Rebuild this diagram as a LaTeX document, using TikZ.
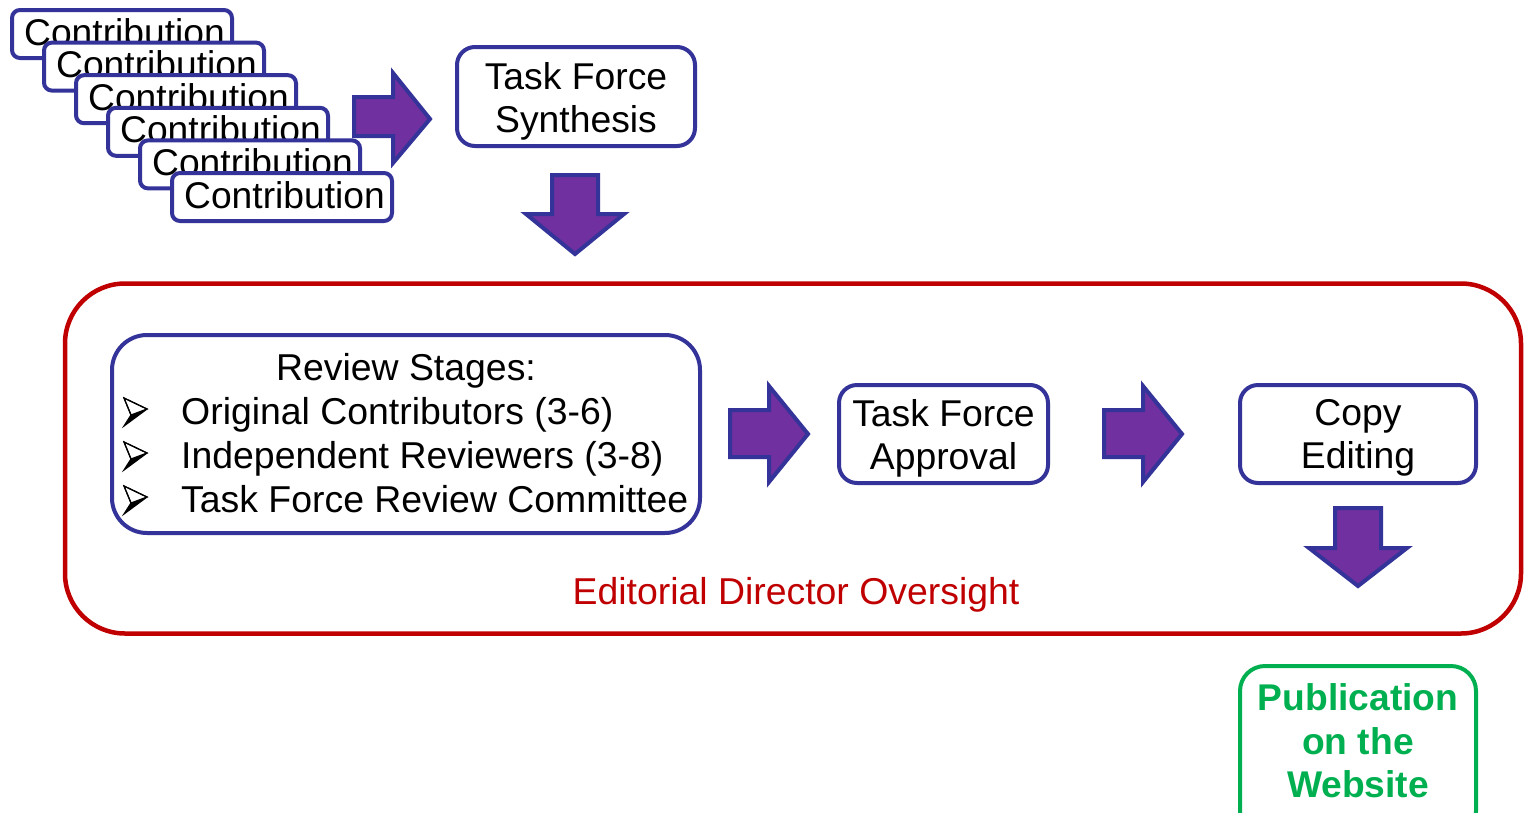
\documentclass[tikz,border=0pt]{standalone}
\usepackage{fontspec}
\setmainfont{Liberation Sans}
\definecolor{tfblue}{HTML}{333399}
\definecolor{tfpurple}{HTML}{7030A0}
\definecolor{tfred}{HTML}{C00000}
\definecolor{tfgreen}{HTML}{00B050}
\tikzset{
  bluebox/.style={draw=tfblue, line width=4pt, fill=white, rounded corners=18pt, inner sep=0pt},
  boxtext/.style={align=center, font=\fontsize{37.3}{43}\selectfont, inner sep=0pt},
  contrib/.style={draw=tfblue, line width=4pt, fill=white, rounded corners=8pt,
    minimum width=220pt, minimum height=48pt, inner sep=0pt},
  contribtext/.style={font=\fontsize{37.2}{43}\selectfont, inner sep=0pt},
  bodytext/.style={font=\fontsize{37.4}{43}\selectfont, inner sep=0pt},
  blockarrow/.style={draw=tfblue, fill=tfpurple, line width=4pt, miter limit=10},
  bulletmark/.pic={
    \fill[black] (-4,3) -- (12,-3) -- (-11,14) -- cycle;
    \draw[black, line width=1.2pt, line join=miter, fill=white] (-11,-14) -- (12,-3) -- (-4,3) -- cycle;
    \draw[black, line width=1.2pt, line join=miter] (-11,-14) -- (12,-3) -- (-11,14) -- (-4,3) -- cycle;
  },
}
\begin{document}
\begin{tikzpicture}[x=1pt,y=-1pt]
\useasboundingbox (0,0) rectangle (1524,812);
\clip (0,0) rectangle (1524,812);
\fill[white] (0,0) rectangle (1524,812);

% stacked contributions
\foreach \k in {0,...,5}{
  \node[contrib] (c\k) at ({122+32*\k},{34+32.6*\k}) {};
  \node[contribtext, anchor=base west] (ct\k) at ({24+32*\k},{45+32.6*\k}) {Contribution};
}

% arrow from contributions to synthesis
\draw[blockarrow] (354,97) -- (393,97) -- (393,73) -- (430,119) -- (393,163) -- (393,136) -- (354,136) -- cycle;

% Task Force Synthesis
\node[bluebox, minimum width=238pt, minimum height=99pt] (synth) at (576,96.5) {};
\node[boxtext] (synthtext) at (576,101) {Task Force\\Synthesis};

% down arrow
\draw[blockarrow] (552,175) -- (598,175) -- (598,214) -- (624,214) -- (575,254) -- (526,214) -- (552,214) -- cycle;

% Editorial oversight frame
\node[draw=tfred, line width=4.5pt, rounded corners=60pt, minimum width=1456pt, minimum height=350pt, inner sep=0pt] (frame) at (793,458.5) {};
\node[bodytext, text=tfred, anchor=base] (oversight) at (796,604) {Editorial Director Oversight};

% Review stages
\node[bluebox, rounded corners=35pt, minimum width=588pt, minimum height=198pt] (review) at (406,434) {};
\node[bodytext, anchor=base] (rtitle) at (406,380) {Review Stages:};
\pic at (135,412) {bulletmark};
\pic at (135,456) {bulletmark};
\pic at (135,500) {bulletmark};
\node[bodytext, anchor=base west] (r1) at (181,424) {Original Contributors (3-6)};
\node[bodytext, anchor=base west] (r2) at (181,468) {Independent Reviewers (3-8)};
\node[bodytext, anchor=base west] (r3) at (181,512) {Task Force Review Committee};

% arrows
\draw[blockarrow] (730,410) -- (769,410) -- (769,386) -- (808,434) -- (769,482) -- (769,457) -- (730,457) -- cycle;
\draw[blockarrow] (1104,410) -- (1143,410) -- (1143,386) -- (1182,434) -- (1143,482) -- (1143,457) -- (1104,457) -- cycle;

% Task Force Approval
\node[bluebox, minimum width=209pt, minimum height=98pt] (approval) at (943.5,434) {};
\node[boxtext] (approvaltext) at (943.5,438) {Task Force\\Approval};
% Copy Editing
\node[bluebox, minimum width=236pt, minimum height=98pt] (copy) at (1358,434) {};
\node[boxtext] (copytext) at (1358,438) {Copy\\Editing};

% down arrow to publication
\draw[blockarrow] (1335,508) -- (1381,508) -- (1381,548) -- (1407,548) -- (1358,586) -- (1309,548) -- (1335,548) -- cycle;

% Publication
\node[draw=tfgreen, line width=4pt, rounded corners=25pt, minimum width=236pt, minimum height=170pt, inner sep=0pt] (pub) at (1358,751) {};
\node[font=\bfseries\fontsize{37.2}{43.5}\selectfont, text=tfgreen, align=center, inner sep=0pt] (pubtext) at (1358,741) {Publication\\on the\\Website};
\end{tikzpicture}
\end{document}
